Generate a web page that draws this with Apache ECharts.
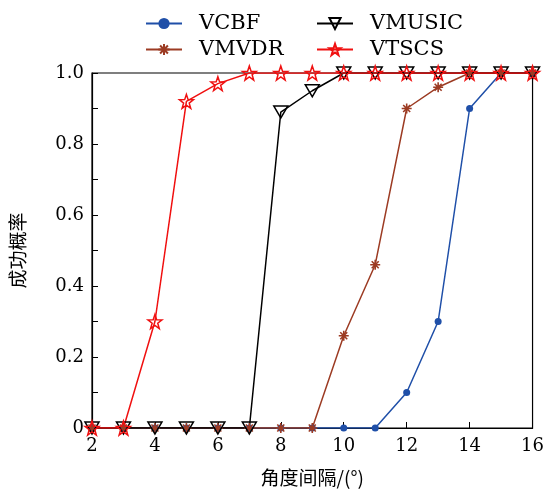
<!DOCTYPE html>
<html>
<head>
<meta charset="utf-8">
<script src="https://cdn.jsdelivr.net/npm/echarts@6/dist/echarts.min.js"></script>
<style>
  html, body {margin: 0; padding: 0; background: #fff;}
  #chart {width: 547px; height: 492px;}
</style>
</head>
<body>
<div id="chart"></div>
<script>
const angles = [2, 3, 4, 5, 6, 7, 8, 9, 10, 11, 12, 13, 14, 15, 16];
const vcbf = [0, 0, 0, 0, 0, 0, 0, 0, 0, 0, 0.1, 0.3, 0.9, 1.0, 1.0];
const vmvdr = [0, 0, 0, 0, 0, 0, 0, 0, 0.26, 0.46, 0.9, 0.96, 1.0, 1.0, 1.0];
const vmusic = [0, 0, 0, 0, 0, 0, 0.89, 0.95, 1.0, 1.0, 1.0, 1.0, 1.0, 1.0, 1.0];
const vtscs = [0, 0, 0.3, 0.92, 0.97, 1.0, 1.0, 1.0, 1.0, 1.0, 1.0, 1.0, 1.0, 1.0, 1.0];

const serif = '"DejaVu Serif", "Liberation Serif", serif';
const cjk = '"Noto Sans CJK SC", ' + serif;
const starPath = 'path://M10 0L12.35 6.76L19.51 6.91L13.8 11.24L15.88 18.09L10 14L4.12 18.09L6.2 11.24L0.49 6.91L7.65 6.76Z';
const asteriskPath = 'path://M5 0L5 10M0 5L10 5M1.5 1.5L8.5 8.5M8.5 1.5L1.5 8.5';

function pairs(ys) {
  return angles.map((x, i) => [x, ys[i]]);
}

const chart = echarts.init(document.getElementById('chart'));

const legendText = {fontFamily: serif, fontSize: 21, color: '#000', padding: [0, 0, 0, 12]};

const option = {
  animation: false,
  legend: [{
    orient: 'vertical',
    left: 140,
    top: 8,
    itemWidth: 36,
    itemHeight: 14,
    itemGap: 5,
    textStyle: legendText,
    data: ['VCBF', 'VMVDR'],
  }, {
    orient: 'vertical',
    left: 311,
    top: 8,
    itemWidth: 36,
    itemHeight: 14,
    itemGap: 5,
    textStyle: legendText,
    data: ['VMUSIC', 'VTSCS'],
  }],
  grid: {
    left: 92,
    right: 12,
    top: 73,
    bottom: 62,
    show: true,
    borderColor: '#000',
    borderWidth: 1.2,
  },
  xAxis: {
    type: 'value',
    min: 2,
    max: 16,
    interval: 2,
    name: '角度间隔/(°)',
    nameLocation: 'middle',
    nameGap: 40,
    nameTextStyle: {fontFamily: cjk, fontSize: 19, color: '#000'},
    axisLine: {lineStyle: {color: '#000', width: 1.2}},
    axisTick: {inside: true, length: 6, lineStyle: {color: '#000'}},
    axisLabel: {fontFamily: serif, fontSize: 18, color: '#000', margin: 9},
    splitLine: {show: false},
  },
  yAxis: {
    type: 'value',
    min: 0,
    max: 1,
    interval: 0.2,
    name: '成功概率',
    nameLocation: 'middle',
    nameGap: 65,
    nameTextStyle: {fontFamily: cjk, fontSize: 19, color: '#000'},
    axisLine: {lineStyle: {color: '#000', width: 1.2}},
    axisTick: {inside: true, length: 6, lineStyle: {color: '#000'}},
    minorTick: {show: true, splitNumber: 2, length: 6, lineStyle: {color: '#000'}},
    axisLabel: {
      fontFamily: serif, fontSize: 18, color: '#000', margin: 8,
      formatter: v => v === 0 ? '0' : v.toFixed(1),
    },
    splitLine: {show: false},
  },
  series: [{
    name: 'VCBF',
    type: 'line',
    data: pairs(vcbf),
    symbol: 'circle',
    symbolSize: 7,
    itemStyle: {color: '#1f4fa8'},
    lineStyle: {color: '#1f4fa8', width: 1.5},
  }, {
    name: 'VMVDR',
    type: 'line',
    data: pairs(vmvdr),
    symbol: asteriskPath,
    symbolSize: 10,
    itemStyle: {color: '#9c3b23', borderColor: '#9c3b23', borderWidth: 1.6},
    lineStyle: {color: '#9c3b23', width: 1.5},
  }, {
    name: 'VMUSIC',
    type: 'line',
    data: pairs(vmusic),
    symbol: 'triangle',
    symbolRotate: 180,
    symbolSize: [14, 12],
    itemStyle: {color: 'rgba(0,0,0,0)', borderColor: '#000', borderWidth: 1.5},
    lineStyle: {color: '#000', width: 1.5},
  }, {
    name: 'VTSCS',
    type: 'line',
    data: pairs(vtscs),
    symbol: starPath,
    symbolSize: 14,
    itemStyle: {color: 'rgba(255,255,255,0)', borderColor: '#f01010', borderWidth: 1.5},
    lineStyle: {color: '#f01010', width: 1.5},
  }],
};

chart.setOption(option);
</script>
</body>
</html>
